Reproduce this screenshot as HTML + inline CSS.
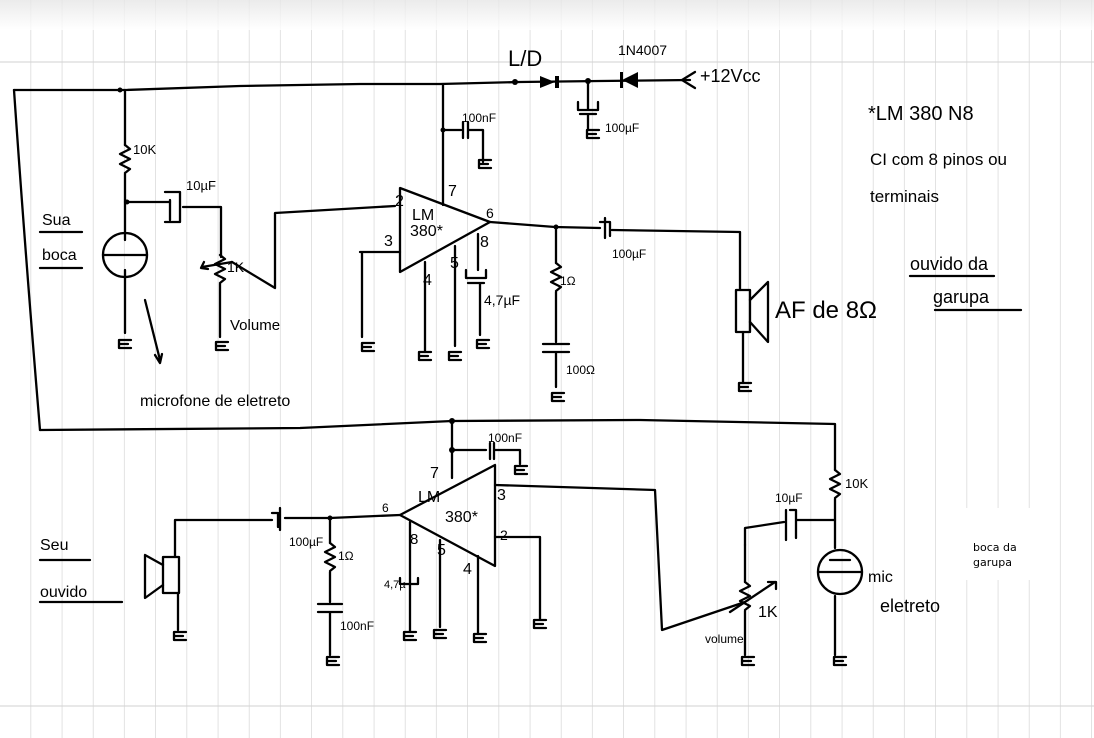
<!DOCTYPE html>
<html><head><meta charset="utf-8"><style>
html,body{margin:0;padding:0;background:#fff}
svg{display:block}
.w{fill:none;stroke:#000;stroke-width:2.3;stroke-linecap:round;stroke-linejoin:round}
.h{font-family:"DejaVu Sans","Liberation Sans",sans-serif;fill:#000}
</style></head><body>
<svg width="1094" height="738" viewBox="0 0 1094 738" xmlns="http://www.w3.org/2000/svg">
<defs>
<linearGradient id="tg" x1="0" y1="0" x2="0" y2="1"><stop offset="0" stop-color="#e6e6e6"/><stop offset="1" stop-color="#fff"/></linearGradient>
<pattern id="gp" x="0" y="0" width="31.2" height="738" patternUnits="userSpaceOnUse">
<line x1="31" y1="0" x2="31" y2="738" stroke="#d6d6d6" stroke-width="1"/>
</pattern>
<g id="gnd" class="w"><path d="M-6 0h12M-6 0v8M-6 4h9M-6 8h12"/></g>
<g id="res" class="w"><path d="M0 0l5 4l-10 5l10 5l-10 5l10 5l-5 4"/></g>
</defs>
<rect width="1094" height="738" fill="#fff"/>
<rect width="1094" height="738" fill="url(#gp)"/>
<rect width="1094" height="30" fill="url(#tg)" opacity="0.8"/>
<g stroke="#d2d2d2" stroke-width="1">
<line x1="0" y1="62" x2="1094" y2="62"/>
<line x1="0" y1="706" x2="1094" y2="706"/>
</g>

<!-- TOP CIRCUIT -->
<path class="w" d="M14 90L125 90L240 86L360 84L440 84L520 82L600 81L690 80"/>
<path class="w" d="M14 90Q25 250 40 430"/>
<circle cx="120" cy="90" r="2.5"/><circle cx="515" cy="82" r="3"/><circle cx="588" cy="81" r="3"/>
<path d="M540 76L555 82L540 88Z"/><rect x="555" y="76" width="4" height="12"/>
<path d="M638 72L622 80L638 88Z"/><rect x="620" y="72" width="3" height="16"/>
<path class="w" d="M695 72L682 80L695 88"/>
<path class="w" d="M588 81v28M578 102v8h20v-8M580 114h16M588 114v16"/>
<use href="#gnd" x="593" y="130"/>
<path class="w" d="M125 90v55"/><use href="#res" x="125" y="145"/><path class="w" d="M125 174v28h45"/>
<circle cx="127" cy="202" r="2.5"/>
<path class="w" d="M165 192h15v30h-15M170 200v20M183 207h38v50"/>
<circle cx="125" cy="255" r="22" class="w"/>
<path class="w" d="M103 255h44M125 202v38M125 270v63"/>
<use href="#gnd" x="125" y="340"/>
<path class="w" d="M145 300l15 60M155 355l5 8l2 -9"/>
<use href="#res" x="220" y="255"/><path class="w" d="M220 284v53"/>
<use href="#gnd" x="222" y="342"/>
<path class="w" d="M232 262l-30 5M204 262l-3 6l7 1"/>
<path class="w" d="M232 262L275 288V213L395 206"/>
<path class="w" d="M400 188L400 272L490 222Z"/>
<path class="w" d="M360 252h40M362 252v85"/><use href="#gnd" x="368" y="343"/>
<path class="w" d="M425 262v90M455 246v100M478 234v36"/>
<use href="#gnd" x="425" y="352"/><use href="#gnd" x="455" y="352"/>
<path class="w" d="M466 270v8h20v-8M468 283h16M480 283v52"/><use href="#gnd" x="483" y="340"/>
<path class="w" d="M443 84V205M443 130h18M463 122v16M468 122v16M468 130h15v32"/>
<circle cx="443" cy="130" r="2.5"/><use href="#gnd" x="485" y="160"/>
<path class="w" d="M490 222L555 227L600 228M605 218v20M600 222h10v14M612 230L740 232V290"/>
<circle cx="556" cy="227" r="2.5"/>
<path class="w" d="M556 227v36"/><use href="#res" x="556" y="263"/>
<path class="w" d="M556 292v50M543 344h26M543 352h26M556 352v35"/><use href="#gnd" x="558" y="393"/>
<rect x="736" y="290" width="14" height="42" class="w"/>
<path class="w" d="M750 300L768 282V342L750 322M743 332V383"/><use href="#gnd" x="745" y="383"/>
<path class="w" d="M40 430L300 428L452 421L640 420L835 424V470"/>
<circle cx="452" cy="421" r="3"/>
<!-- BOTTOM CIRCUIT -->
<path class="w" d="M452 421V478M452 450h34M490 443v16M494 443v16M494 450h26v14"/>
<circle cx="452" cy="450" r="3"/><use href="#gnd" x="521" y="466"/>
<path class="w" d="M400 515L495 465V566Z"/>
<path class="w" d="M495 485L655 490L662 630L745 602"/>
<path class="w" d="M495 537h45v82"/><use href="#gnd" x="540" y="620"/>
<path class="w" d="M410 522v80M400 584h18M400 578v6M418 578v6M410 584v48M440 540v87M478 556v78"/>
<use href="#gnd" x="410" y="632"/><use href="#gnd" x="440" y="630"/><use href="#gnd" x="480" y="634"/>
<path class="w" d="M400 515L330 518L285 518M280 508v22M272 513h6v14M272 520L175 520V557"/>
<circle cx="330" cy="518" r="2.5"/>
<path class="w" d="M330 518v25"/><use href="#res" x="330" y="543"/>
<path class="w" d="M330 572v30M318 604h24M318 612h24M330 612v43"/><use href="#gnd" x="333" y="657"/>
<rect x="163" y="557" width="16" height="36" class="w"/>
<path class="w" d="M163 565L145 555V598L163 585M178 593v37"/><use href="#gnd" x="180" y="632"/>
<path class="w" d="M745 545V582"/><use href="#res" x="745" y="582"/><path class="w" d="M745 611V655"/>
<use href="#gnd" x="748" y="657"/>
<path class="w" d="M745 545V528L784 522M786 510v30M790 510h6v28M796 520L835 520"/>
<path class="w" d="M730 612L775 582M768 582h8v7"/>
<use href="#res" x="835" y="470"/><path class="w" d="M835 499V548M835 596V655"/>
<circle cx="840" cy="572" r="22" class="w"/><path class="w" d="M818 572h44M830 560h20"/>
<use href="#gnd" x="840" y="657"/>
<rect x="938" y="508" width="100" height="72" fill="#fff"/>

<g font-family="'Liberation Sans',sans-serif" font-size="17" fill="#000">
<text x="508" y="66" font-size="22">L/D</text>
<text x="618" y="55" font-size="14">1N4007</text>
<text x="700" y="82" font-size="18">+12Vcc</text>
<text x="462" y="122" font-size="12">100nF</text>
<text x="605" y="132" font-size="12">100µF</text>
<text x="133" y="154" font-size="13">10K</text>
<text x="186" y="190" font-size="13">10µF</text>
<text x="395" y="206" font-size="16">2</text>
<text x="384" y="246" font-size="16">3</text>
<text x="448" y="196" font-size="16">7</text>
<text x="412" y="220" font-size="16">LM</text>
<text x="410" y="236" font-size="16">380*</text>
<text x="486" y="218" font-size="14">6</text>
<text x="480" y="247" font-size="16">8</text>
<text x="423" y="285" font-size="16">4</text>
<text x="450" y="268" font-size="16">5</text>
<text x="484" y="305" font-size="14">4,7µF</text>
<text x="227" y="272" font-size="14">1K</text>
<text x="230" y="330" font-size="15">Volume</text>
<text x="560" y="285" font-size="12">1Ω</text>
<text x="612" y="258" font-size="12">100µF</text>
<text x="566" y="374" font-size="12">100Ω</text>
<text x="140" y="406" font-size="16">microfone de eletreto</text>
<text x="775" y="318" font-size="24">AF de 8Ω</text>
<text x="42" y="225" font-size="16">Sua</text>
<text x="42" y="260" font-size="16">boca</text>
<text x="868" y="120" font-size="20">*LM 380 N8</text>
<text x="870" y="165" font-size="17">CI com 8 pinos ou</text>
<text x="870" y="202" font-size="17">terminais</text>
<text x="910" y="270" font-size="18">ouvido da</text>
<text x="933" y="303" font-size="18">garupa</text>
<text x="40" y="550" font-size="16">Seu</text>
<text x="40" y="597" font-size="16">ouvido</text>
<text x="382" y="512" font-size="12">6</text>
<text x="430" y="478" font-size="16">7</text>
<text x="418" y="502" font-size="16">LM</text>
<text x="445" y="522" font-size="16">380*</text>
<text x="497" y="500" font-size="16">3</text>
<text x="500" y="540" font-size="14">2</text>
<text x="410" y="544" font-size="15">8</text>
<text x="437" y="555" font-size="16">5</text>
<text x="463" y="574" font-size="16">4</text>
<text x="384" y="588" font-size="11">4,7µ</text>
<text x="289" y="546" font-size="12">100µF</text>
<text x="338" y="560" font-size="12">1Ω</text>
<text x="340" y="630" font-size="12">100nF</text>
<text x="488" y="442" font-size="12">100nF</text>
<text x="775" y="502" font-size="12">10µF</text>
<text x="845" y="488" font-size="13">10K</text>
<text x="758" y="617" font-size="16">1K</text>
<text x="705" y="643" font-size="12">volume</text>
<text x="868" y="582" font-size="16">mic</text>
<text x="880" y="612" font-size="18">eletreto</text>
</g>
<g class="w" stroke-width="1.8">
<path d="M40 232h42M40 268h42M910 276h84M935 310h86M40 560h50M40 602h82"/>
</g>
<text class="h" x="973" y="551" font-size="11">boca da</text>
<text class="h" x="973" y="566" font-size="11">garupa</text>
</svg>
</body></html>
